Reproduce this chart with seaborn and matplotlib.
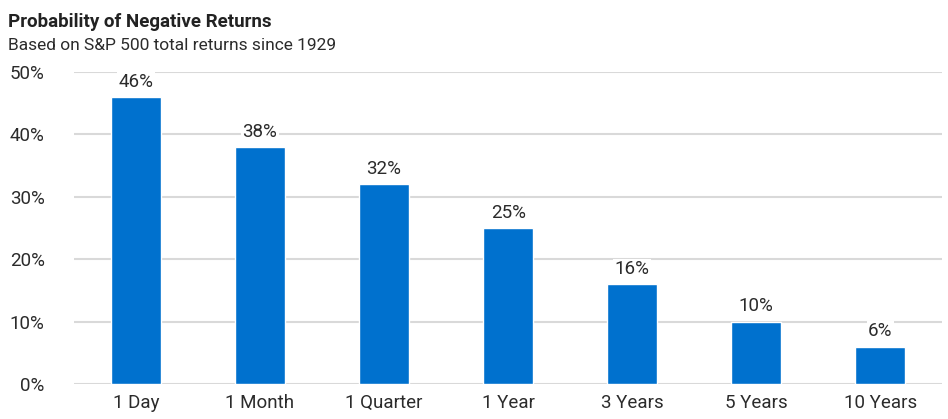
import seaborn as sns
import matplotlib.pyplot as plt
import pandas as pd

periods = ['1 Day', '1 Month', '1 Quarter', '1 Year', '3 Years', '5 Years', '10 Years']
neg_pct = [46, 38, 32, 25, 16, 10, 6]

df = pd.DataFrame({'period': periods, 'pct': neg_pct})

sns.set_style('white')
plt.rcParams['font.family'] = ['Roboto', 'DejaVu Sans']
txt = '#2b2b2b'

fig = plt.figure(figsize=(9.48, 4.19), dpi=100)
ax = fig.add_axes([0.078, 0.0835, 0.916, 0.7445])

sns.barplot(data=df, x='period', y='pct', color='#0071ce', saturation=1,
            width=0.4, ax=ax, zorder=3)

ax.set_ylim(0, 50)
ax.set_xlim(-0.5, 6.5)
ax.set_yticks(range(0, 51, 10))
ax.set_yticklabels([f'{v}%' for v in range(0, 51, 10)])
ax.yaxis.grid(True, color='#d9d9d9', linewidth=1.5, zorder=0)
ax.set_axisbelow(True)
for s in ax.spines.values():
    s.set_visible(False)
ax.tick_params(axis='both', length=0, labelsize=13.5, colors=txt)
ax.tick_params(axis='y', pad=21)
ax.tick_params(axis='x', pad=7)
ax.set_xlabel('')
ax.set_ylabel('')

for i, v in enumerate(neg_pct):
    ax.text(i, v + 1.0, f'{v}%', ha='center', va='bottom', fontsize=13.5, color=txt,
            zorder=4, bbox=dict(facecolor='white', edgecolor='none', pad=1))

fig.text(0.008, 0.935, 'Probability of Negative Returns', fontsize=13.5,
         fontweight='bold', color='#222222', ha='left', va='baseline')
fig.text(0.008, 0.88, 'Based on S&P 500 total returns since 1929', fontsize=12.5,
         color=txt, ha='left', va='baseline')

fig.savefig('out.png', dpi=100)
